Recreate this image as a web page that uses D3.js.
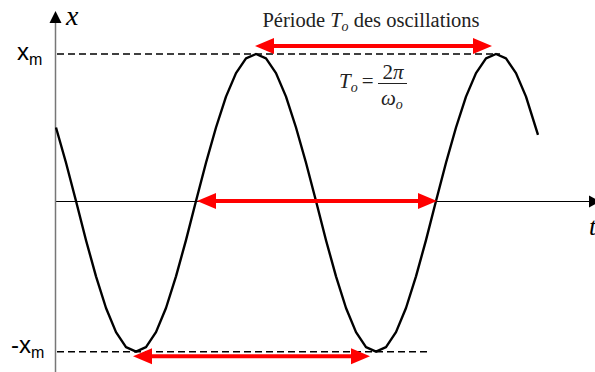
<!DOCTYPE html>
<html><head><meta charset="utf-8">
<script src="https://cdn.jsdelivr.net/npm/d3@7"></script>
<style>html,body{margin:0;padding:0;background:#fff;}svg{display:block;}</style>
</head><body>
<script>
// time in units where one period T0 = 12 ; x in units of xm
const tValues = [0,0.5,1,1.5,2,2.5,3,3.5,4,4.5,5,5.5,6,6.5,7,7.5,8,8.5,9,9.5,10,10.5,11,11.5,12,12.5,13,13.5,14,14.5,15,15.5,16,16.5,17,17.5,18,18.5,19,19.5,20,20.5,21,21.5,22,22.5,23,23.5,24.1];
const xValues = [0.5,0.26,0,-0.26,-0.5,-0.71,-0.87,-0.97,-1,-0.97,-0.87,-0.71,-0.5,-0.26,0,0.26,0.5,0.71,0.87,0.97,1,0.97,0.87,0.71,0.5,0.26,0,-0.26,-0.5,-0.71,-0.87,-0.97,-1,-0.97,-0.87,-0.71,-0.5,-0.26,0,0.26,0.5,0.71,0.87,0.97,1,0.97,0.87,0.71,0.45];
const levelLabels = ["x", "-x"];
const levelValues = [1, -1];
const levelEnds = [22.2, 18.55];
// period arrows: start t, end t, level
const arrowStarts = [9.95, 7.05, 3.85];
const arrowEnds = [21.8, 19.05, 15.7];
const arrowLevels = [1.055, 0, -1.03];

const W = 595, H = 372;
const svg = d3.select("body").append("svg").attr("width", W).attr("height", H);
const xs = d3.scaleLinear().domain([0, 27]).range([56, 596]);
const ys = d3.scaleLinear().domain([-1, 0, 1]).range([351.7, 201, 54]);

// horizontal axis
const ay = ys(0) + 0.5;
svg.append("line").attr("x1", 55.5).attr("x2", 592).attr("y1", ay).attr("y2", ay)
  .attr("stroke", "#000").attr("stroke-width", 1);
svg.append("path").attr("d", `M589,${ay-6} L600,${ay} L589,${ay+6} Z`).attr("fill", "#000");
// vertical axis
svg.append("line").attr("x1", 55.5).attr("x2", 55.5).attr("y1", 20).attr("y2", H)
  .attr("stroke", "#777").attr("stroke-width", 1.5);
svg.append("path").attr("d", `M49.5,23 L55.5,11 L61.5,23 Z`).attr("fill", "#000");

// dashed level lines
svg.selectAll("line.lvl").data(levelValues).join("line").attr("class", "lvl")
  .attr("x1", 57).attr("x2", (d, i) => xs(levelEnds[i]))
  .attr("y1", d => ys(d)).attr("y2", d => ys(d))
  .attr("stroke", "#000").attr("stroke-width", 1.4).attr("stroke-dasharray", "7,4");

// curve
const pts = tValues.map((t, i) => [t, xValues[i]]);
svg.append("path").datum(pts)
  .attr("d", d3.line().x(d => xs(d[0])).y(d => ys(d[1])).curve(d3.curveLinear))
  .attr("fill", "none").attr("stroke", "#000").attr("stroke-width", 2.4).attr("stroke-linejoin", "round");

// red double arrows
const red = "#ff0000";
arrowStarts.forEach((s, i) => {
  const x1 = xs(s), x2 = xs(arrowEnds[i]), y = ys(arrowLevels[i]);
  const hl = 19, hh = 8;
  svg.append("line").attr("x1", x1 + hl - 2).attr("x2", x2 - hl + 2).attr("y1", y).attr("y2", y)
    .attr("stroke", red).attr("stroke-width", 4);
  svg.append("path").attr("d", `M${x1},${y} L${x1+hl},${y-hh} L${x1+hl},${y+hh} Z`).attr("fill", red);
  svg.append("path").attr("d", `M${x2},${y} L${x2-hl},${y-hh} L${x2-hl},${y+hh} Z`).attr("fill", red);
});

// axis labels
svg.append("text").attr("x", 66).attr("y", 25).attr("font-family", "Liberation Serif")
  .attr("font-style", "italic").attr("font-size", 28).text("x");
svg.append("text").attr("x", 589).attr("y", 235).attr("font-family", "Liberation Serif")
  .attr("font-style", "italic").attr("font-size", 26).text("t");

// level labels
const lab = svg.selectAll("text.lvlab").data(levelValues).join("text").attr("class", "lvlab")
  .attr("x", (d, i) => i === 0 ? 17 : 11).attr("y", d => ys(d) + (d > 0 ? 6 : 1))
  .attr("font-family", "Liberation Sans").attr("font-size", 24);
lab.append("tspan").text((d, i) => levelLabels[i]);
lab.append("tspan").attr("dy", 5).attr("font-size", 16).text("m");

// title
const title = svg.append("text").attr("x", 371).attr("y", 27).attr("text-anchor", "middle")
  .attr("font-family", "Liberation Serif").attr("font-size", 20.5).attr("fill", "#222");
title.append("tspan").text("Période ");
title.append("tspan").attr("font-style", "italic").text("T");
title.append("tspan").attr("font-style", "italic").attr("font-size", 14).attr("dy", 4).text("o");
title.append("tspan").attr("dy", -4).text(" des oscillations");

// formula
const f = svg.append("g").attr("font-family", "Liberation Serif").attr("fill", "#222");
const tt = f.append("text").attr("x", 339).attr("y", 88).attr("font-size", 21);
tt.append("tspan").attr("font-style", "italic").text("T");
tt.append("tspan").attr("font-style", "italic").attr("font-size", 14).attr("dy", 4).text("o");
tt.append("tspan").attr("dy", -4).attr("dx", 4).text("=");
f.append("text").attr("x", 393).attr("y", 79).attr("text-anchor", "middle").attr("font-size", 21)
  .html('2<tspan font-style="italic">π</tspan>');
f.append("line").attr("x1", 378).attr("x2", 407).attr("y1", 83.5).attr("y2", 83.5)
  .attr("stroke", "#222").attr("stroke-width", 1);
const om = f.append("text").attr("x", 381).attr("y", 105).attr("font-size", 21);
om.append("tspan").attr("font-style", "italic").text("ω");
om.append("tspan").attr("font-style", "italic").attr("font-size", 14).attr("dy", 4).text("o");
</script>
</body></html>
